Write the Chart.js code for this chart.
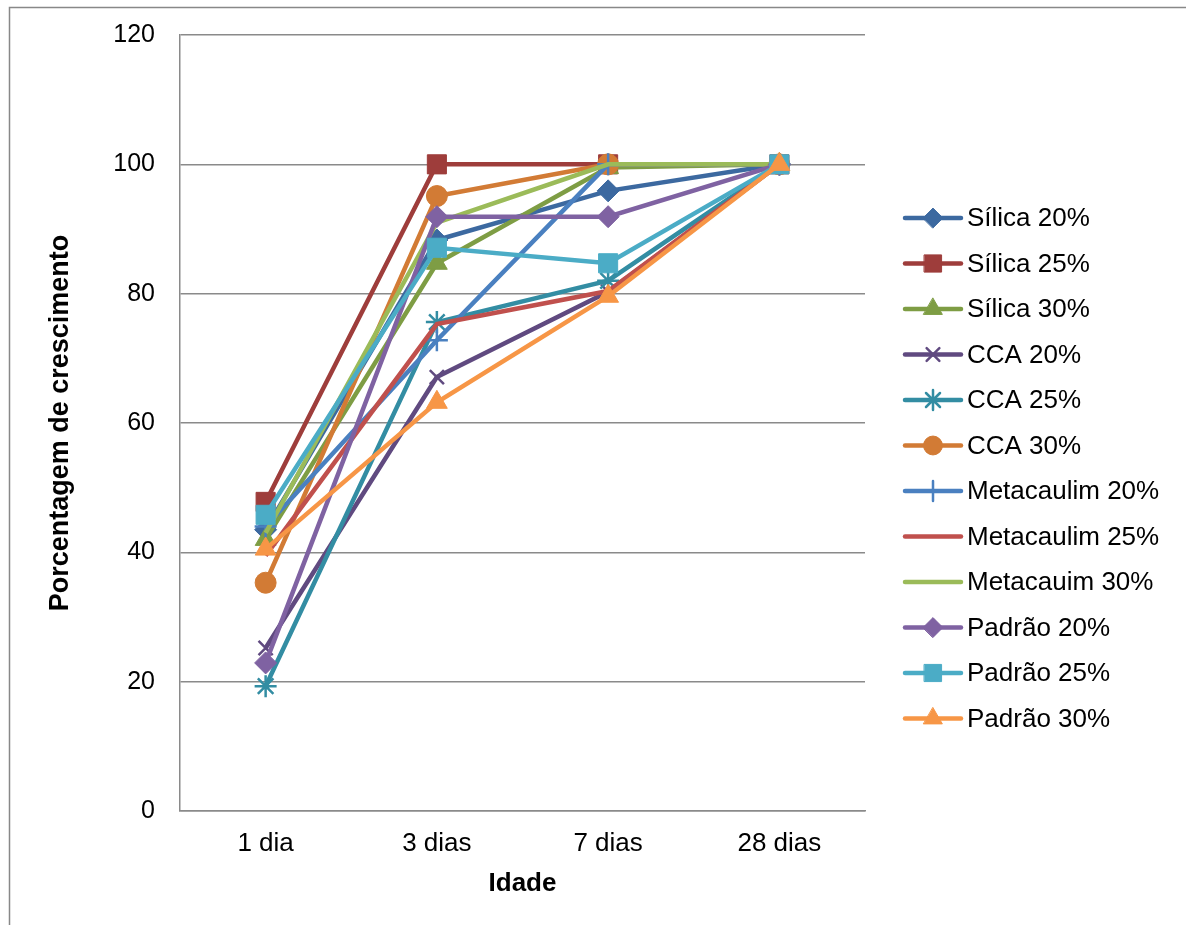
<!DOCTYPE html>
<html><head><meta charset="utf-8">
<script src="https://cdn.jsdelivr.net/npm/chart.js@4"></script>
<style>html,body{margin:0;padding:0;background:#fff}</style>
</head><body>
<canvas id="c" width="1186" height="925" style="display:block;width:1186px;height:925px"></canvas>
<script>
// ---- data ----
const categories = ['1 dia', '3 dias', '7 dias', '28 dias'];
const seriesNames = ['Sílica 20%', 'Sílica 25%', 'Sílica 30%', 'CCA 20%', 'CCA 25%', 'CCA 30%',
  'Metacaulim 20%', 'Metacaulim 25%', 'Metacauim 30%', 'Padrão 20%', 'Padrão 25%', 'Padrão 30%'];
const silica20 = [43.5, 88.3, 95.9, 100];
const silica25 = [47.8, 100, 100, 100];
const silica30 = [42.0, 84.7, 99.5, 100];
const cca20 = [25.2, 67.1, 80.3, 100];
const cca25 = [19.3, 75.6, 82.0, 100];
const cca30 = [35.3, 95.1, 100, 100];
const metacaulim20 = [44.0, 72.8, 100, 100];
const metacaulim25 = [39.5, 75.3, 80.4, 100];
const metacauim30 = [43.0, 91.0, 100, 100];
const padrao20 = [22.9, 91.9, 91.9, 100];
const padrao25 = [45.8, 87.1, 84.7, 100];
const padrao30 = [40.5, 63.2, 79.6, 100];
const yTickValues = [0, 20, 40, 60, 80, 100, 120];

const seriesValues = [silica20, silica25, silica30, cca20, cca25, cca30,
  metacaulim20, metacaulim25, metacauim30, padrao20, padrao25, padrao30];

// ---- styles ----
const lineColors = ['#3C69A0', '#9E3D3B', '#7E9D44', '#604A80', '#338DA3', '#D27B35',
  '#4A80C0', '#C0504D', '#9BBB59', '#7F62A2', '#4BACC6', '#F79646'];
const pointStyles = ['rectRot', 'rect', 'triangle', 'crossRot', 'star', 'circle',
  'cross', false, false, 'rectRot', 'rect', 'triangle'];
const pointRadii = [11, 13.5, 12, 10, 11, 10.5, 11, 0, 0, 11, 13.5, 12];
const FONT = 'Arial, "Liberation Sans", sans-serif';

const datasets = seriesNames.map((name, i) => ({
  label: name,
  data: seriesValues[i],
  borderColor: lineColors[i],
  backgroundColor: lineColors[i],
  borderWidth: 4.5,
  pointStyle: pointStyles[i] || 'circle',
  pointRadius: pointRadii[i],
  pointHoverRadius: pointRadii[i],
  pointBorderWidth: (['crossRot', 'star', 'cross'].includes(pointStyles[i])) ? 2.5 : 1,
  pointBackgroundColor: lineColors[i],
  pointBorderColor: lineColors[i],
  tension: 0,
  fill: false,
  order: seriesNames.length - 1 - i
}));

const framePlugin = {
  id: 'frame',
  beforeDraw(chart) {
    const ctx = chart.ctx;
    ctx.save();
    ctx.fillStyle = '#fff';
    ctx.fillRect(0, 0, chart.width, chart.height);
    ctx.strokeStyle = '#888';
    ctx.lineWidth = 1.5;
    ctx.beginPath();
    ctx.moveTo(9.5, chart.height);
    ctx.lineTo(9.5, 7.5);
    ctx.lineTo(chart.width, 7.5);
    ctx.stroke();
    ctx.restore();
  }
};

const legendPlugin = {
  id: 'customLegend',
  afterDraw(chart) {
    const ctx = chart.ctx;
    const x0 = chart.chartArea.right + 40;
    const lineLen = 56;
    const y0 = 218, dy = 45.5;
    ctx.save();
    chart.data.datasets.forEach((ds, i) => {
      const y = y0 + i * dy;
      ctx.strokeStyle = ds.borderColor;
      ctx.lineWidth = 4.5;
      ctx.lineCap = 'round';
      ctx.beginPath();
      ctx.moveTo(x0, y);
      ctx.lineTo(x0 + lineLen, y);
      ctx.stroke();
      if (ds.pointRadius > 0) {
        ctx.fillStyle = ds.pointBackgroundColor;
        ctx.strokeStyle = ds.pointBorderColor;
        ctx.lineWidth = ds.pointBorderWidth;
        Chart.helpers.drawPoint(ctx, {
          pointStyle: ds.pointStyle, radius: ds.pointRadius * 0.9, rotation: 0,
          borderWidth: ds.pointBorderWidth
        }, x0 + lineLen / 2, y);
      }
      ctx.fillStyle = '#000';
      ctx.font = '26px ' + FONT;
      ctx.textBaseline = 'middle';
      ctx.textAlign = 'left';
      ctx.fillText(ds.label, x0 + lineLen + 6, y + 1);
    });
    ctx.restore();
  }
};

new Chart(document.getElementById('c'), {
  type: 'line',
  data: { labels: categories, datasets },
  plugins: [framePlugin, legendPlugin],
  options: {
    responsive: false,
    animation: false,
    devicePixelRatio: 1,
    layout: { padding: { left: 44, right: 321, top: 35, bottom: 0 } },
    plugins: { legend: { display: false }, tooltip: { enabled: false } },
    scales: {
      x: {
        offset: true,
        grid: { display: false, drawTicks: false },
        border: { display: true, color: '#8a8a8a', width: 1.5 },
        ticks: { color: '#000', font: { family: FONT, size: 26 }, padding: 17, maxRotation: 0 },
        title: { display: true, text: 'Idade', color: '#000',
          font: { family: FONT, size: 26, weight: 'bold' }, padding: { top: 0, bottom: 26 } },
        afterFit(scale) { scale.height = 114; scale.paddingLeft = 0; scale.paddingRight = 0; }
      },
      y: {
        min: 0, max: 120,
        afterBuildTicks(scale) { scale.ticks = yTickValues.map(v => ({ value: v })); },
        grid: { color: '#8a8a8a', lineWidth: 1.5, drawTicks: false },
        border: { display: true, color: '#8a8a8a', width: 1.5 },
        ticks: { color: '#000', font: { family: FONT, size: 25 }, padding: 25 },
        title: { display: true, text: 'Porcentagem de crescimento', color: '#000',
          font: { family: FONT, size: 27, weight: 'bold' }, padding: { top: 0, bottom: 0 } },
        afterFit(scale) { scale.width = 136; scale.paddingTop = 0; scale.paddingBottom = 0; }
      }
    }
  }
});
</script>
</body></html>
